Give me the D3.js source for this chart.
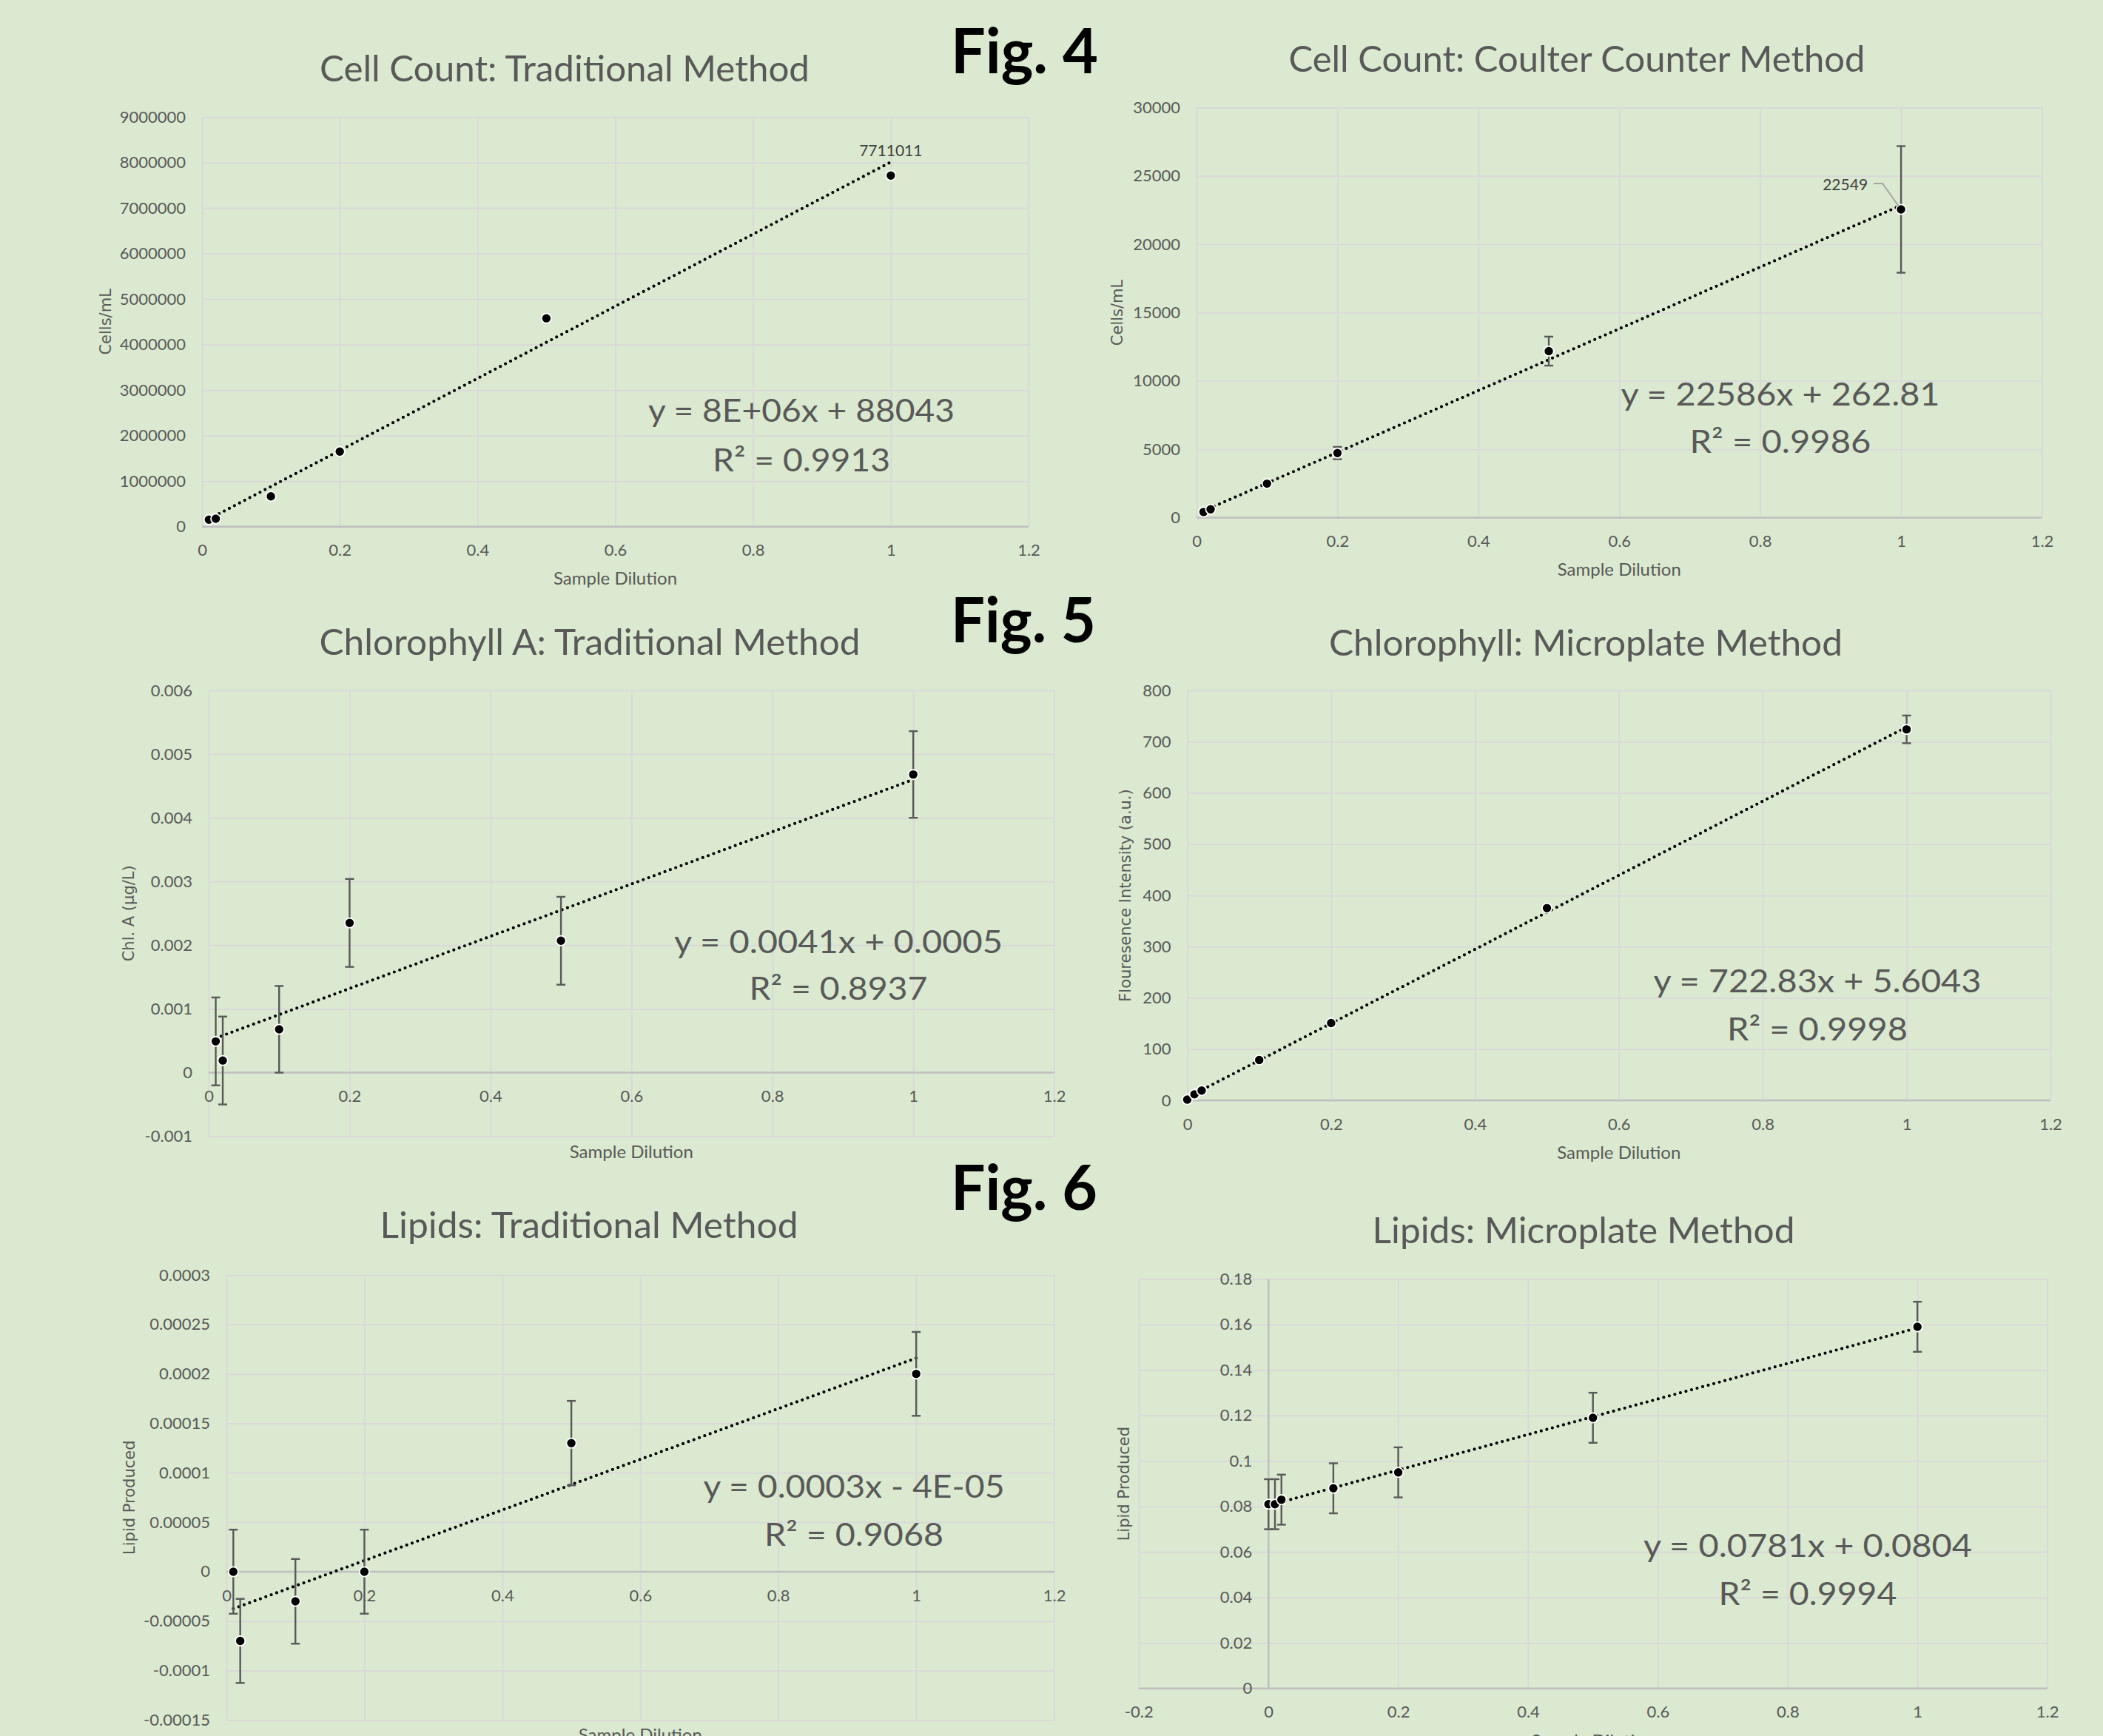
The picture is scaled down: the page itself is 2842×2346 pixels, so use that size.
<!DOCTYPE html>
<html><head><meta charset="utf-8">
<script src="https://cdn.jsdelivr.net/npm/d3@7"></script>
<style>body{margin:0;background:#dae9cf}</style>
</head><body><svg id="c" width="2842" height="2346"></svg>
<script>
// ---------------- DATA ----------------
const figLabels = ["Fig. 4", "Fig. 5", "Fig. 6"];
const titles = [
  "Cell Count: Traditional Method",
  "Cell Count: Coulter Counter Method",
  "Chlorophyll A: Traditional Method",
  "Chlorophyll: Microplate Method",
  "Lipids: Traditional Method",
  "Lipids: Microplate Method"
];
const yTitles = ["Cells/mL", "Cells/mL", "Chl. A (\u00b5g/L)", "Flouresence Intensity (a.u.)", "Lipid Produced", "Lipid Produced"];
const xTitle = "Sample Dilution";

const dilution = [0.01, 0.02, 0.1, 0.2, 0.5, 1];
const dilutionWithBlank = [0, 0.01, 0.02, 0.1, 0.2, 0.5, 1];

const cellTrad = [153000, 174000, 666000, 1649000, 4576000, 7711011];
const cellTradErr = [0, 0, 0, 0, 0, 0];
const cellCoulter = [414, 608, 2486, 4724, 12182, 22549];
const cellCoulterErr = [0, 0, 0, 450, 1060, 4630];
const chlTrad = [0.00049, 0.00019, 0.00068, 0.00235, 0.00207, 0.00468];
const chlTradErr = [0.00069, 0.00069, 0.00068, 0.00069, 0.00069, 0.00068];
const chlMicro = [1.5, 11.8, 19.2, 78.8, 151, 375, 724];
const chlMicroErr = [0, 0, 0, 0, 0, 0, 27];
const lipTrad = [0, -0.00007, -0.00003, 0, 0.00013, 0.0002];
const lipTradErr = [0.0000425, 0.0000425, 0.0000428, 0.0000425, 0.0000427, 0.0000424];
const lipMicro = [0.081, 0.081, 0.083, 0.088, 0.095, 0.119, 0.159];
const lipMicroErr = [0.011, 0.011, 0.011, 0.011, 0.011, 0.011, 0.011];

// trendlines: [slope, intercept]
const trendCellTrad = [7.92e6, 88043];
const trendCellCoulter = [22586, 262.81];
const trendChlTrad = [0.0041, 0.0005];
const trendChlMicro = [722.83, 5.6043];
const trendLipTrad = [0.000256, -0.00004];
const trendLipMicro = [0.0781, 0.0804];

const equations = [
  ["y = 8E+06x + 88043", "R\u00b2 = 0.9913"],
  ["y = 22586x + 262.81", "R\u00b2 = 0.9986"],
  ["y = 0.0041x + 0.0005", "R\u00b2 = 0.8937"],
  ["y = 722.83x + 5.6043", "R\u00b2 = 0.9998"],
  ["y = 0.0003x - 4E-05", "R\u00b2 = 0.9068"],
  ["y = 0.0781x + 0.0804", "R\u00b2 = 0.9994"]
];

const xTicks = [0, 0.2, 0.4, 0.6, 0.8, 1, 1.2];
const xTicksWide = [-0.2, 0, 0.2, 0.4, 0.6, 0.8, 1, 1.2];
const yTicksCellTrad = [0, 1000000, 2000000, 3000000, 4000000, 5000000, 6000000, 7000000, 8000000, 9000000];
const yTicksCellCoulter = [0, 5000, 10000, 15000, 20000, 25000, 30000];
const yTicksChlTrad = [-0.001, 0, 0.001, 0.002, 0.003, 0.004, 0.005, 0.006];
const yTicksChlMicro = [0, 100, 200, 300, 400, 500, 600, 700, 800];
const yTicksLipTrad = [-0.00015, -0.0001, -0.00005, 0, 0.00005, 0.0001, 0.00015, 0.0002, 0.00025, 0.0003];
const yTicksLipMicro = [0, 0.02, 0.04, 0.06, 0.08, 0.1, 0.12, 0.14, 0.16, 0.18];

// ---------------- LAYOUT ----------------
const panels = [
  {xs: dilution, ys: cellTrad, err: cellTradErr, trend: trendCellTrad, xT: xTicks, yT: yTicksCellTrad,
   box: [273, 1390, 158, 711.7], title: [763, 110, 662], eq: [1083, 570, 414, 637, 240], yLab: 143, xLab: 790,
   label: {idx: 5, text: "7711011", type: "above"}},
  {xs: dilution, ys: cellCoulter, err: cellCoulterErr, trend: trendCellCoulter, xT: xTicks, yT: yTicksCellCoulter,
   box: [1617, 2759.5, 145.4, 699.5], title: [2131, 97, 779], eq: [2406, 548, 431, 612, 245], yLab: 1510, xLab: 778,
   label: {idx: 5, text: "22549", type: "leader"}},
  {xs: dilution, ys: chlTrad, err: chlTradErr, trend: trendChlTrad, xT: xTicks, yT: yTicksChlTrad,
   box: [282, 1424.6, 933, 1535.6], title: [797, 885, 731], eq: [1133, 1288, 444, 1351, 241], yLab: 174, xLab: 1565},
  {xs: dilutionWithBlank, ys: chlMicro, err: chlMicroErr, trend: trendChlMicro, xT: xTicks, yT: yTicksChlMicro,
   box: [1604.5, 2771, 933, 1487], title: [2143, 886, 694], eq: [2456, 1341, 443, 1406, 244], yLab: 1521, xLab: 1566},
  {xs: dilution, ys: lipTrad, err: lipTradErr, trend: trendLipTrad, xT: xTicks, yT: yTicksLipTrad,
   box: [306, 1424.6, 1723, 2324.4], title: [796, 1673, 565], eq: [1154, 2024, 407, 2089, 242], yLab: 175, xLab: 2353},
  {xs: dilutionWithBlank, ys: lipMicro, err: lipMicroErr, trend: trendLipMicro, xT: xTicksWide, yT: yTicksLipMicro,
   box: [1538.8, 2766.6, 1728.4, 2281.8], title: [2140, 1680, 571], eq: [2443, 2104, 444, 2169, 241], yLab: 1519, xLab: 2361,
   yAxisAtZero: true}
];
const figPos = [[1285, 99, 199], [1285, 868, 196], [1285, 1635, 198]];

const FONT = "Lato, 'Liberation Sans', Arial, sans-serif";
const TXT = "#595959";
const GRID = "#d9d9d9";
const AXIS = "#bfbfbf";

const svg = d3.select("#c");
svg.append("rect").attr("width", 2842).attr("height", 2346).attr("fill", "#dae9cf");

const fmt = d => String(+d.toPrecision(6));

panels.forEach((p, i) => {
  const [l, r, t, b] = p.box;
  const x = d3.scaleLinear().domain(d3.extent(p.xT)).range([l, r]);
  const y = d3.scaleLinear().domain(d3.extent(p.yT)).range([b, t]);
  const g = svg.append("g").attr("font-family", FONT);

  // gridlines
  const gx = g.append("g").attr("transform", `translate(0,${b})`)
    .call(d3.axisBottom(x).tickValues(p.xT).tickSize(-(b - t)).tickFormat(""));
  const gy = g.append("g").attr("transform", `translate(${l},0)`)
    .call(d3.axisLeft(y).tickValues(p.yT).tickSize(-(r - l)).tickFormat(""));
  [gx, gy].forEach(s => { s.select(".domain").remove(); s.selectAll(".tick line").attr("stroke", GRID).attr("stroke-width", 2); });

  // axis lines
  g.append("line").attr("x1", l).attr("x2", r).attr("y1", y(0)).attr("y2", y(0))
    .attr("stroke", AXIS).attr("stroke-width", 2.5);
  if (p.yAxisAtZero) {
    g.append("line").attr("x1", x(0)).attr("x2", x(0)).attr("y1", t).attr("y2", b)
      .attr("stroke", AXIS).attr("stroke-width", 2.5);
  }

  // tick labels
  const ax = g.append("g").attr("transform", `translate(0,${y(0)})`)
    .call(d3.axisBottom(x).tickValues(p.xT).tickSize(0).tickPadding(24).tickFormat(fmt));
  const ay = g.append("g").attr("transform", `translate(${x(0)},0)`)
    .call(d3.axisLeft(y).tickValues(p.yT).tickSize(0).tickPadding(22).tickFormat(fmt));
  [ax, ay].forEach(s => {
    s.select(".domain").remove();
    s.attr("font-family", FONT).attr("font-size", 22);
    s.selectAll("text").attr("fill", TXT);
  });

  // title
  g.append("text").attr("x", p.title[0]).attr("y", p.title[1]).attr("text-anchor", "middle")
    .attr("font-size", 48).attr("fill", TXT).attr("textLength", p.title[2]).attr("lengthAdjust", "spacingAndGlyphs")
    .text(titles[i]);

  // axis titles
  g.append("text").attr("transform", `translate(${p.yLab},${(t + b) / 2}) rotate(-90)`)
    .attr("text-anchor", "middle").attr("dominant-baseline", "central")
    .attr("font-family", "'DejaVu Sans', sans-serif").attr("font-size", 21).attr("fill", TXT)
    .text(yTitles[i]);
  g.append("text").attr("x", (l + r) / 2).attr("y", p.xLab).attr("text-anchor", "middle")
    .attr("font-size", 24).attr("fill", TXT).text(xTitle);

  const pts = p.xs.map((xv, k) => ({x: xv, y: p.ys[k], e: p.err[k]}));

  // trendline
  const ext = d3.extent(p.xs);
  const line = d3.line().x(d => x(d[0])).y(d => y(d[1]));
  g.append("path").attr("d", line(ext.map(v => [v, p.trend[0] * v + p.trend[1]])))
    .attr("fill", "none").attr("stroke", "#000").attr("stroke-width", 4.2)
    .attr("stroke-dasharray", "0 7.8").attr("stroke-linecap", "round");

  // error bars
  const eb = g.append("g").attr("stroke", TXT).attr("stroke-width", 2.4);
  pts.filter(d => d.e > 0).forEach(d => {
    const cx = x(d.x), y1 = y(d.y + d.e), y2 = y(d.y - d.e);
    eb.append("line").attr("x1", cx).attr("x2", cx).attr("y1", y1).attr("y2", y2);
    eb.append("line").attr("x1", cx - 6).attr("x2", cx + 6).attr("y1", y1).attr("y2", y1);
    eb.append("line").attr("x1", cx - 6).attr("x2", cx + 6).attr("y1", y2).attr("y2", y2);
  });

  // markers
  g.append("g").selectAll("circle").data(pts).join("circle")
    .attr("cx", d => x(d.x)).attr("cy", d => y(d.y)).attr("r", 6.6)
    .attr("fill", "#000").attr("stroke", "#fff").attr("stroke-width", 1.8);

  // data labels
  if (p.label) {
    const d = pts[p.label.idx];
    const cx = x(d.x), cy = y(d.y);
    if (p.label.type === "above") {
      g.append("text").attr("x", cx).attr("y", cy - 26).attr("text-anchor", "middle")
        .attr("font-size", 21).attr("fill", "#404040").text(p.label.text);
    } else {
      g.append("polyline").attr("points", [[cx - 37, cy - 35], [cx - 25, cy - 35], [cx - 3, cy - 4]].join(" "))
        .attr("fill", "none").attr("stroke", "#a6a6a6").attr("stroke-width", 2);
      g.append("text").attr("x", cx - 45).attr("y", cy - 26).attr("text-anchor", "end")
        .attr("font-size", 21).attr("fill", "#404040").text(p.label.text);
    }
  }

  // equation
  const eq = equations[i];
  g.append("text").attr("x", p.eq[0]).attr("y", p.eq[1]).attr("text-anchor", "middle")
    .attr("font-size", 43).attr("fill", TXT).attr("textLength", p.eq[2]).attr("lengthAdjust", "spacingAndGlyphs")
    .text(eq[0]);
  g.append("text").attr("x", p.eq[0]).attr("y", p.eq[3]).attr("text-anchor", "middle")
    .attr("font-size", 43).attr("fill", TXT).attr("textLength", p.eq[4]).attr("lengthAdjust", "spacingAndGlyphs")
    .text(eq[1]);
});

// figure labels
figLabels.forEach((f, i) => {
  svg.append("text").attr("x", figPos[i][0]).attr("y", figPos[i][1])
    .attr("font-family", FONT).attr("font-weight", "bold").attr("font-size", 84).attr("fill", "#000")
    .attr("textLength", figPos[i][2]).attr("lengthAdjust", "spacingAndGlyphs").text(f);
});
</script></body></html>
